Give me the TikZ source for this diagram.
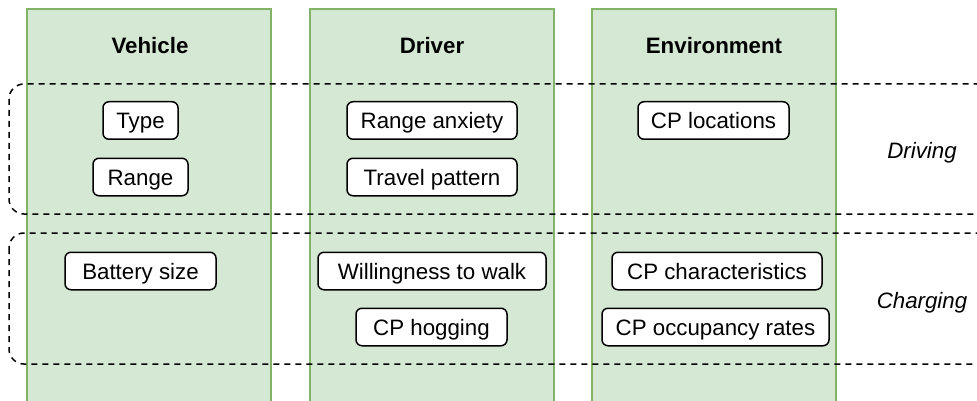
\documentclass[tikz,border=0pt]{standalone}
\usepackage{fontspec}
\setmainfont{Liberation Sans}
\begin{document}
\begin{tikzpicture}[x=1pt,y=-1pt,
  lane/.style={draw=colLane, fill=colFill, line width=2pt, rectangle, minimum width=244pt, minimum height=420pt, anchor=north, inner sep=0pt},
  txt/.style={font=\fontsize{22.3}{24}\selectfont, text height=16pt, text depth=0pt, inner sep=0pt},
  head/.style={txt, font=\fontsize{22.3}{24}\selectfont\bfseries},
  band/.style={draw=black, line width=1.5pt, dash pattern=on 6pt off 5pt, rounded corners=15pt},
  item/.style={txt, draw=black, fill=white, line width=1.5pt, rounded corners=6pt, minimum height=37.5pt},
  tag/.style={txt, font=\fontsize{22.3}{24}\selectfont\itshape}
]
\definecolor{colLane}{HTML}{82B366}
\definecolor{colFill}{HTML}{D5E8D4}
\clip (0,0) rectangle (977,401);

% columns
\node[lane] (vehicle) at (149,8) {};
\node[lane] (driver)  at (432,8) {};
\node[lane] (env)     at (714,8) {};

\node[head] (hv) at (150,46) {Vehicle};
\node[head] (hd) at (432,46) {Driver};
\node[head] (he) at (714,46) {Environment};

% dashed bands
\draw[band] (9,84) rectangle (992,214);
\draw[band] (9,233) rectangle (992,364);

\node[tag] (driving)  at (922,150) {Driving};
\node[tag] (charging) at (922,300) {Charging};

% driving factors
\node[item, minimum width=75pt]  (type)   at (140.5,120.5) {Type};
\node[item, minimum width=95pt]  (range)  at (140.5,177)   {Range};
\node[item, minimum width=170pt] (anx)    at (432,120.5)   {Range anxiety};
\node[item, minimum width=170pt] (travel) at (432,177)     {Travel pattern};
\node[item, minimum width=151pt] (cploc)  at (713.5,120.5) {CP locations};

% charging factors
\node[item, minimum width=151pt] (batt)   at (140.5,271)   {Battery size};
\node[item, minimum width=228pt] (walk)   at (432,271)     {Willingness to walk};
\node[item, minimum width=151pt] (hog)    at (431.5,327)   {CP hogging};
\node[item, minimum width=210pt] (cpchar) at (717,271)     {CP characteristics};
\node[item, minimum width=227pt] (cpocc)  at (715.5,327)   {CP occupancy rates};
\end{tikzpicture}
\end{document}
